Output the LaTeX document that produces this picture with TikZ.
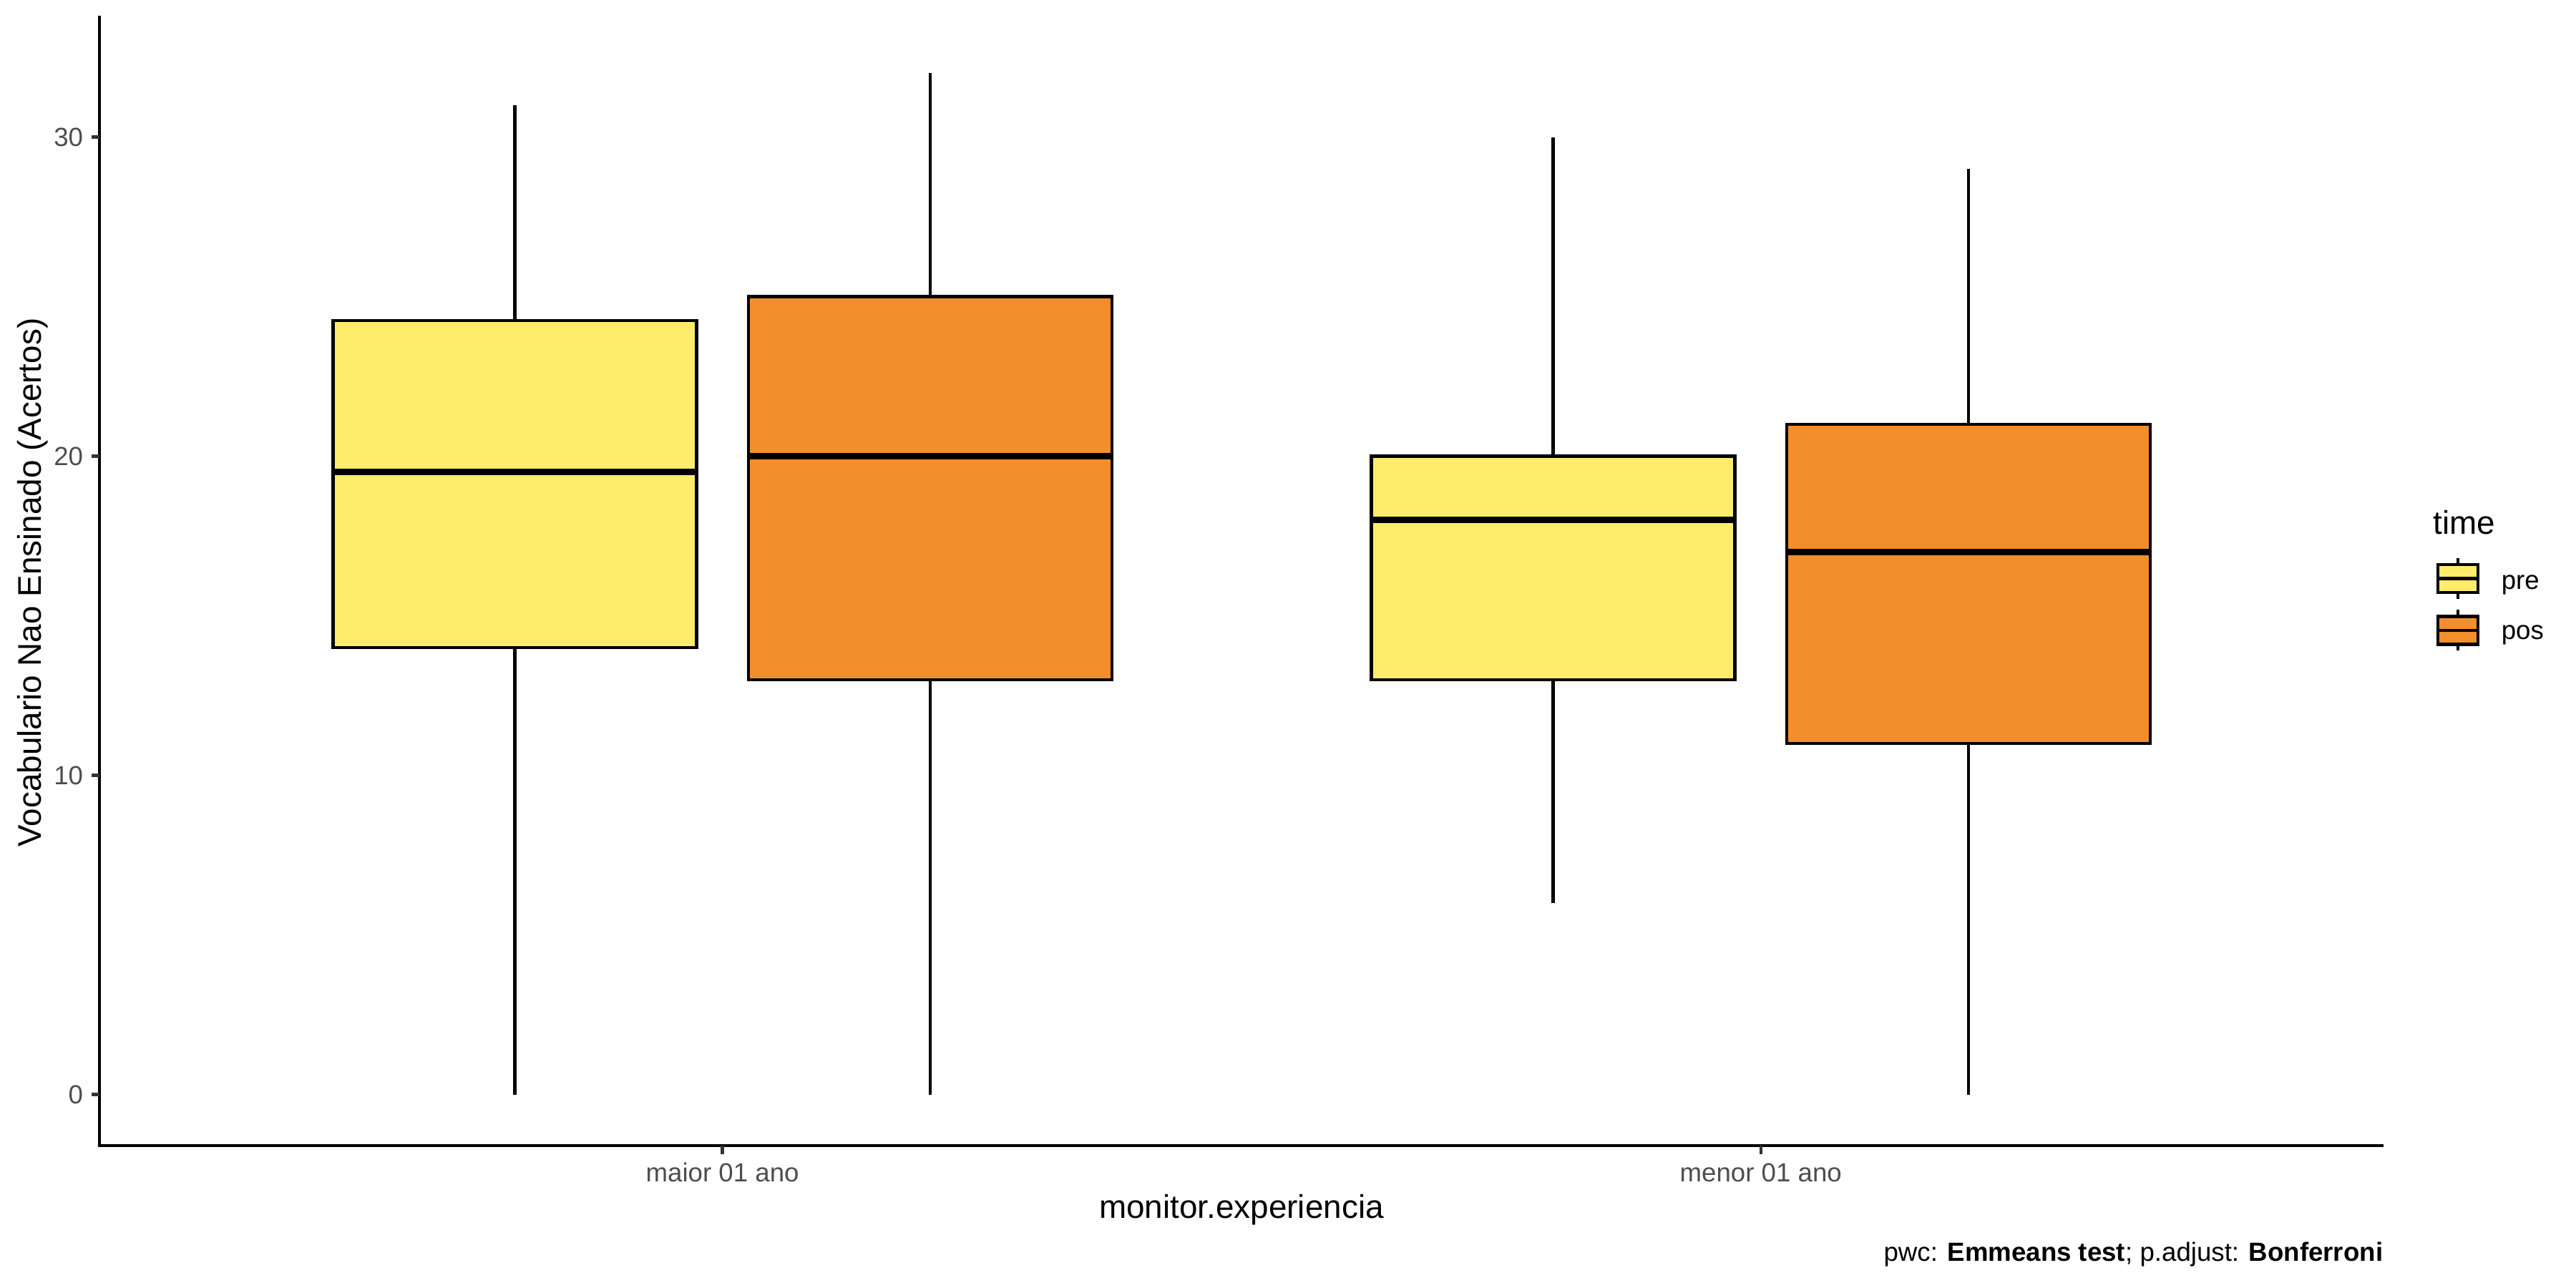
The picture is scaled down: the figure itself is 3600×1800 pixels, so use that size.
\documentclass[tikz,border=0pt]{standalone}
\usepackage{fontspec}
\setmainfont{Liberation Sans}
\usepackage{tikz}
\usetikzlibrary{positioning}

\definecolor{preFill}{HTML}{FFEC6B}
\definecolor{posFill}{HTML}{F28E2B}
\definecolor{tickGray}{HTML}{4D4D4D}
\definecolor{tickLine}{HTML}{333333}

\tikzset{
  boxline/.style={line width=1.07bp},
  medline/.style={line width=2.13bp},
  axisline/.style={line width=1.07bp},
  ticklab/.style={text=tickGray,inner sep=0pt,font=\fontsize{8.8bp}{10bp}\selectfont},
  leglab/.style={inner sep=0pt,font=\fontsize{8.8bp}{10bp}\selectfont},
  titlelab/.style={inner sep=0pt,font=\fontsize{11bp}{13bp}\selectfont}
}

\begin{document}
\begin{tikzpicture}[x=0.24bp,y=0.24bp]
\useasboundingbox (0,0) rectangle (3600,1800);

%panel w jednostkach danych
\begin{scope}[shift={(-441.4,270.3)},x=348.24bp,y=10.704bp]
%osie
\draw[axisline] (0.4,33.8) -- (0.4,-1.6) -- (2.6,-1.6);

%podzialka y
\foreach \v in {0,10,20,30}
    \draw[axisline,tickLine] (0.4,\v) -- ++(-2.76bp,0)
        node[ticklab,anchor=east,xshift=-2.2bp] (ylab\v) {\v};

%podzialka x
\foreach \c/\t in {1/maior 01 ano,2/menor 01 ano}
    \draw[axisline,tickLine] (\c,-1.6) -- ++(0,-2.76bp)
        node[ticklab,anchor=base,yshift=-9.36bp] (xlab\c) {\t};

%pudelka
\foreach \c/\lo/\qa/\md/\qb/\hi/\fc in {0.8/0/14/19.5/24.25/31/preFill,1.2/0/13/20/25/32/posFill,1.8/6/13/18/20/30/preFill,2.2/0/11/17/21/29/posFill}
{
    \draw[boxline] (\c,\lo) -- (\c,\qa);
    \draw[boxline] (\c,\qb) -- (\c,\hi);
    \filldraw[boxline,fill=\fc] (\c-0.175,\qa) rectangle (\c+0.175,\qb);
    \draw[medline] (\c-0.175,\md) -- (\c+0.175,\md);
}
\end{scope}

%tytuly osi
\node[titlelab,anchor=base] (xtitle) at (1735,97) {monitor.experiencia};
\node[titlelab,anchor=base,rotate=90] (ytitle) at (57,986) {Vocabulario Nao Ensinado (Acertos)};

%legenda
\node[titlelab,anchor=base west] (legtitle) at (3400,1053) {time};
\foreach \k/\y/\fc in {pre/991.5/preFill,pos/919/posFill}
{
    \coordinate (key\k) at (3435,\y);
    \draw[boxline] ([yshift=-28.5*0.24bp]key\k) -- ([yshift=28.5*0.24bp]key\k);
    \filldraw[boxline,fill=\fc] ([shift={(-28,-19.5)}]key\k) rectangle ([shift={(28,19.5)}]key\k);
    \draw[boxline] ([xshift=-28*0.24bp]key\k) -- ([xshift=28*0.24bp]key\k);
}
\node[leglab,anchor=base west] (labpre) at (3495,976) {pre};
\node[leglab,anchor=base west] (labpos) at (3495,906) {pos};

%podpis
\node[leglab,anchor=base east] (caption) at (3331,37) {pwc: \textbf{Emmeans test}; p.adjust: \textbf{Bonferroni}};

%koniec
\end{tikzpicture}
\end{document}
